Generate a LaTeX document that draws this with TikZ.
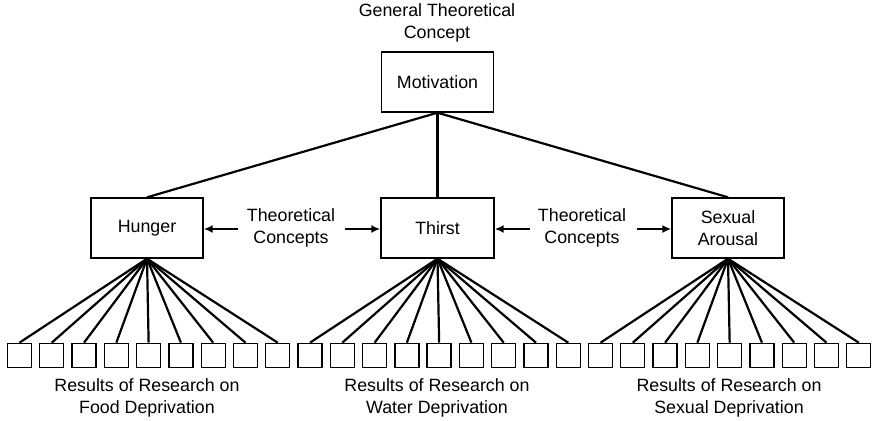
\documentclass[tikz,border=0pt]{standalone}
\usepackage{fontspec}
\setmainfont{Liberation Sans}
\usetikzlibrary{arrows.meta}
\begin{document}
\begin{tikzpicture}[x=1pt,y=-1pt,
  every node/.style={font=\fontsize{17.8}{21.4}\selectfont, align=center, inner sep=0pt},
  bigbox/.style={draw, line width=1.4pt, minimum width=112pt, minimum height=60pt},
  smallbox/.style={draw, line width=1.3pt, minimum width=24pt, minimum height=24pt},
  link/.style={line width=2.2pt},
  arr/.style={line width=2.4pt, -{Latex[length=9pt,width=8pt]}}]
\useasboundingbox (0,0) rectangle (872,420);
\node (gtc) at (437,23) {General Theoretical\\Concept};
\node[bigbox] (mot) at (437.5,82) {Motivation};
\node[bigbox] (hun) at (147,228) {Hunger};
\node[bigbox, minimum width=113pt] (thi) at (437.5,228) {Thirst};
\node[bigbox] (sex) at (728,228) {Sexual\\Arousal};
\draw[link] (mot.south) -- (hun.north);
\draw[link] (mot.south) -- (thi.north);
\draw[link] (mot.south) -- (sex.north);
\node (tc1) at (291,228) {Theoretical\\Concepts};
\node (tc2) at (582,228) {Theoretical\\Concepts};
\coordinate (a1l) at (238,229);
\coordinate (a1r) at (345,229);
\coordinate (a2l) at (530,229);
\coordinate (a2r) at (637,229);
\draw[arr] (a1l) -- (hun.east |- a1l);
\draw[arr] (a1r) -- (thi.west |- a1r);
\draw[arr] (a2l) -- (thi.east |- a2l);
\draw[arr] (a2r) -- (sex.west |- a2r);
\foreach \i in {0,...,26} {
  \node[smallbox] (b\i) at ({19.5+32.28*\i},355.3) {};
}
\foreach \i in {0,...,8} { \draw[link] (hun.south) -- (b\i.north); }
\foreach \i in {9,...,17} { \draw[link] (thi.south) -- (b\i.north); }
\foreach \i in {18,...,26} { \draw[link] (sex.south) -- (b\i.north); }
\node (l1) at (147,398) {Results of Research on\\Food Deprivation};
\node (l2) at (437,398) {Results of Research on\\Water Deprivation};
\node (l3) at (729,398) {Results of Research on\\Sexual Deprivation};
\end{tikzpicture}
\end{document}
